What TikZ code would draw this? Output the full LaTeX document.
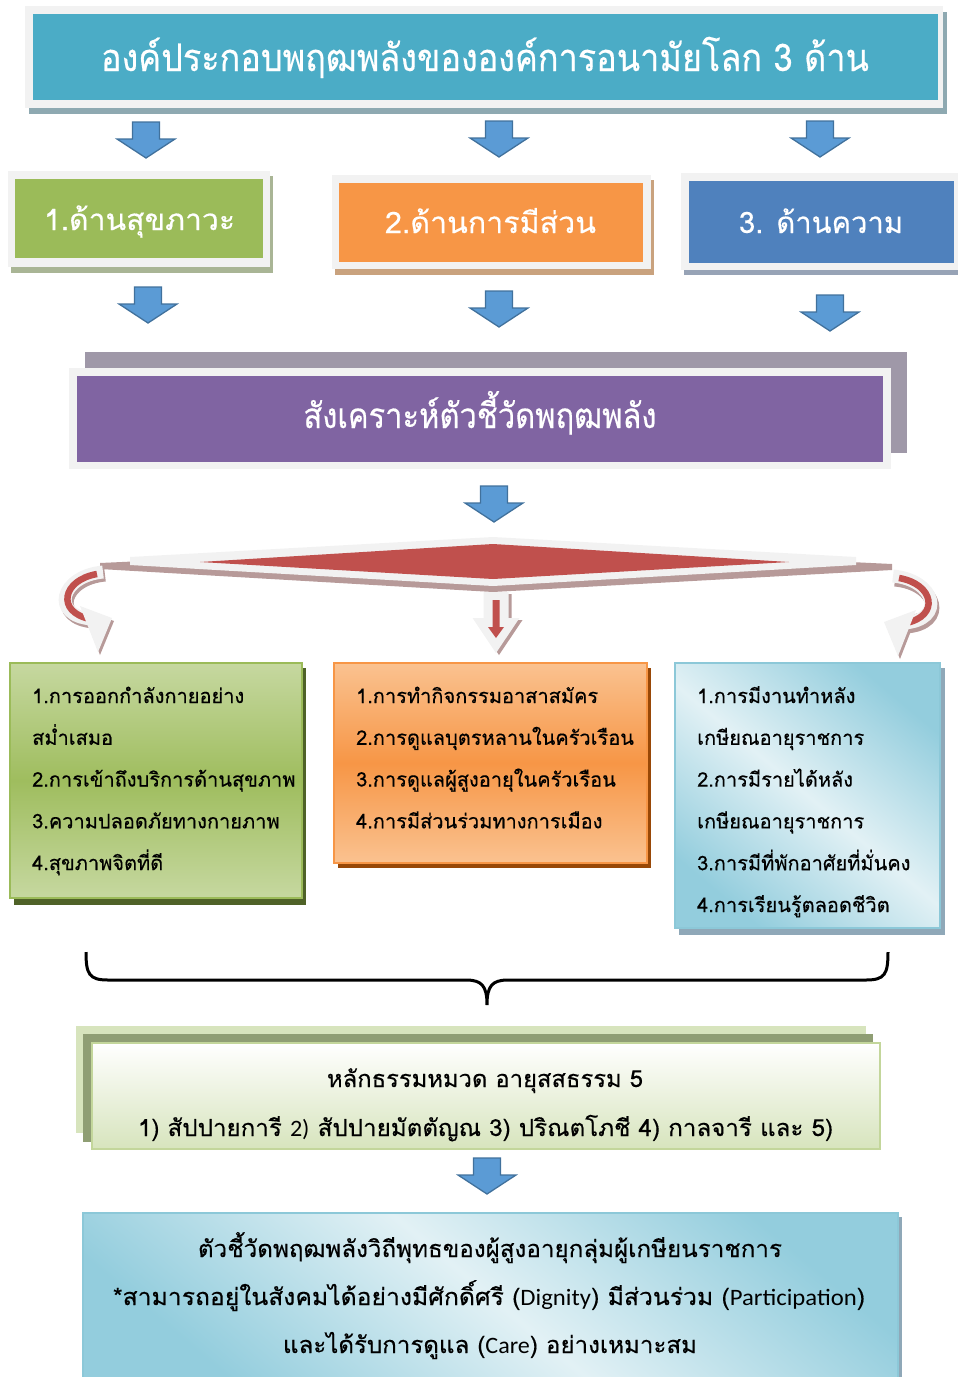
\documentclass[tikz,border=0pt]{standalone}
\usepackage{fontspec}
\usepackage{graphicx}
\setmainfont{Loma}[Script=Thai, FakeBold=0.4]
\newfontfamily\latinf{Carlito}
\definecolor{frameC}{HTML}{F2F2F2}
\definecolor{tealC}{HTML}{4BACC6}
\definecolor{bannerSh}{HTML}{8EA9B1}
\definecolor{greenC}{HTML}{9BBB59}
\definecolor{greenSh}{HTML}{A9B595}
\definecolor{orangeC}{HTML}{F79646}
\definecolor{orangeSh}{HTML}{C9A27E}
\definecolor{blueC}{HTML}{4F81BD}
\definecolor{blueSh}{HTML}{97A3B6}
\definecolor{purpleC}{HTML}{8064A2}
\definecolor{purpleBk}{HTML}{9F98A8}
\definecolor{arrowC}{HTML}{5B9BD5}
\definecolor{arrowD}{HTML}{41719C}
\definecolor{redC}{HTML}{C0504D}
\definecolor{redSh}{HTML}{B79A99}
\definecolor{lgTop}{HTML}{C6D8A0}
\definecolor{lgMid}{HTML}{9FBD5E}
\definecolor{lgSh}{HTML}{4F6228}
\definecolor{loTop}{HTML}{FAC290}
\definecolor{loSh}{HTML}{984807}
\definecolor{lbLight}{HTML}{E2F1F5}
\definecolor{lbDark}{HTML}{93CDDD}
\definecolor{lbBorder}{HTML}{8CC8D8}
\definecolor{lbSh}{HTML}{8FA8B8}
\definecolor{bgLight}{HTML}{D7E4BD}
\definecolor{bgDark}{HTML}{8F9E74}
\definecolor{bgBorder}{HTML}{C3D69B}
\newcommand\fitw[2]{\resizebox{#1pt}{\height}{#2}}
\newcommand\hfont{\fontsize{38}{44}\selectfont}
\newcommand\bfont{\fontsize{29.5}{34}\selectfont}
\newcommand\pfont{\fontsize{35}{40}\selectfont}
\newcommand\lfont{\fontsize{20}{24}\selectfont}
\newcommand\qfont{\fontsize{23.5}{28}\selectfont}
\begin{document}
\begin{tikzpicture}[x=1pt,y=-1pt,
  htext/.style={text=white, inner sep=0pt, anchor=base},
  ltext/.style={text=black, inner sep=0pt, anchor=base west, font=\lfont},
  qtext/.style={text=black, inner sep=0pt, anchor=base, font=\qfont},
  barrow/.style={fill=arrowC, draw=arrowD, line width=1.3pt, line join=miter},
  downarrow/.pic={\draw[barrow] (-13.5,0) -- (13.5,0) -- (13.5,17) -- (29,17) -- (0,36) -- (-29,17) -- (-13.5,17) -- cycle;},
  lbshade/.style={top color=lbDark, bottom color=lbDark, middle color=lbLight, shading angle=-40},
  band/.style={frameC, line width=13pt},
  bandsh/.style={redSh, line width=13pt},
  core/.style={redC, line width=6.5pt}
]
\useasboundingbox (0,0) rectangle (958,1377);

% ---------- banner
\fill[bannerSh] (29,12) rectangle (947,114);
\fill[frameC] (25,6) rectangle (943,108);
\fill[tealC] (33,14) rectangle (938,100);
\node[htext] (banner) at (485,71) {\hfont\fitw{768}{องค์ประกอบพฤฒพลังขององค์การอนามัยโลก 3 ด้าน}};

% ---------- arrows row 1
\pic at (146,122) {downarrow};
\pic at (499,121) {downarrow};
\pic at (820,121) {downarrow};

% ---------- three headers
\fill[greenSh] (11,176) rectangle (273,273);
\fill[frameC] (8,171) rectangle (270,267);
\fill[greenC] (15,179) rectangle (263,258);
\node[htext] (h1) at (139.5,230) {\bfont\fitw{191}{1.ด้านสุขภาวะ}};

\fill[orangeSh] (335,180) rectangle (654,275);
\fill[frameC] (332,175) rectangle (651,269);
\fill[orangeC] (339,183) rectangle (643,262);
\node[htext] (h2) at (490.5,233) {\bfont\fitw{211}{2.ด้านการมีส่วน}};

\fill[blueSh] (684,178) rectangle (958,275);
\fill[frameC] (681,173) rectangle (958,270);
\fill[blueC] (689,181) rectangle (954,263);
\node[htext] (h3) at (821,233) {\bfont\fitw{164}{3. ด้านความ}};

% ---------- arrows row 2
\pic at (148,287) {downarrow};
\pic at (499,291) {downarrow};
\pic at (830,295) {downarrow};

% ---------- purple synthesis box
\fill[purpleBk] (85,352) rectangle (907,453);
\fill[frameC] (69,368) rectangle (891,469);
\fill[purpleC] (77,376) rectangle (883,462);
\node[htext] (synth) at (480,428) {\pfont\fitw{353}{สังเคราะห์ตัวชี้วัดพฤฒพลัง}};

\pic at (494,486) {downarrow};

% ---------- diamond
\fill[redSh] (100,563) -- (493,545) -- (892,564) -- (892,570) -- (493,592) -- (100,569) -- cycle;
\fill[frameC] (130,557) -- (493,537) -- (856,557) -- (856,565) -- (493,586) -- (130,565) -- cycle;
\fill[redC] (200,562) -- (493,544) -- (789,562) -- (493,579) -- cycle;

% ---------- left curled arrow
\draw[bandsh] (105,575) .. controls (62,579) and (52,619) .. (94,622);
\fill[redSh] (82,609) -- (114,621) -- (100,655) -- cycle;
\draw[band] (103,572) .. controls (60,576) and (50,616) .. (92,619);
\draw[core] (97,574) .. controls (62,580) and (56,612) .. (90,619);
\fill[frameC] (80,606) -- (112,618) -- (98,652) -- cycle;

% ---------- right curled arrow
\draw[bandsh] (895,580) .. controls (938,584) and (948,624) .. (906,627);
\fill[redSh] (918,613) -- (886,625) -- (900,659) -- cycle;
\draw[band] (893,576) .. controls (936,580) and (946,620) .. (904,623);
\draw[core] (899,578) .. controls (934,584) and (940,616) .. (906,623);
\fill[frameC] (916,610) -- (884,622) -- (898,656) -- cycle;

% ---------- middle small arrow
\fill[redSh] (486.5,594) -- (511.5,594) -- (511.5,620) -- (522.5,620) -- (499,655) -- (475.5,620) -- (486.5,620) -- cycle;
\fill[frameC] (483.5,592) -- (508.5,592) -- (508.5,618) -- (519.5,618) -- (496,653) -- (472.5,618) -- (483.5,618) -- cycle;
\fill[redC] (492.5,600) -- (499.5,600) -- (499.5,627) -- (504,627) -- (496,638) -- (488,627) -- (492.5,627) -- cycle;

% ---------- green list
\fill[lgSh] (14,668) rectangle (306,905);
\shade[top color=lgTop, bottom color=lgTop, middle color=lgMid] (10,663) rectangle (302,898);
\draw[greenC, line width=1.5pt] (10,663) rectangle (302,898);
\foreach \t [count=\i] in {{1.การออกกำลังกายอย่าง},{สม่ำเสมอ},{2.การเข้าถึงบริการด้านสุขภาพ},{3.ความปลอดภัยทางกายภาพ},{4.สุขภาพจิตที่ดี}}
  \node[ltext] (g\i) at (32,{703+41.75*(\i-1)}) {\t};

% ---------- orange list
\fill[loSh] (338,668) rectangle (651,868);
\shade[top color=loTop, bottom color=loTop, middle color=orangeC] (334,663) rectangle (647,863);
\draw[orangeC, line width=1.5pt] (334,663) rectangle (647,863);
\foreach \t [count=\i] in {{1.การทำกิจกรรมอาสาสมัคร},{2.การดูแลบุตรหลานในครัวเรือน},{3.การดูแลผู้สูงอายุในครัวเรือน},{4.การมีส่วนร่วมทางการเมือง}}
  \node[ltext] (o\i) at (356,{703+41.75*(\i-1)}) {\t};

% ---------- blue list
\fill[lbSh] (679,668) rectangle (945,935);
\shade[lbshade] (675,663) rectangle (940,928);
\draw[lbBorder, line width=1.5pt] (675,663) rectangle (940,928);
\foreach \t [count=\i] in {{1.การมีงานทำหลัง},{เกษียณอายุราชการ},{2.การมีรายได้หลัง},{เกษียณอายุราชการ},{3.การมีที่พักอาศัยที่มั่นคง},{4.การเรียนรู้ตลอดชีวิต}}
  \node[ltext] (b\i) at (697,{703+41.8*(\i-1)}) {\t};

% ---------- brace
\coordinate (brL) at (86,952);
\coordinate (brR) at (888,952);
\coordinate (brM) at (487,1005);
\draw[black, line width=3pt] (brL) .. controls (86,974) and (89,980) .. (108,980) -- (466,980)
  .. controls (482,980) and (487,986) .. (brM)
  .. controls (487,986) and (492,980) .. (508,980) -- (866,980)
  .. controls (885,980) and (888,974) .. (brR);

% ---------- dhamma box
\fill[bgLight] (76,1026) rectangle (866,1133);
\fill[bgDark] (83,1034) rectangle (873,1142);
\shade[top color=white, bottom color=bgLight] (92,1043) rectangle (880,1149);
\draw[bgBorder, line width=1.5pt] (92,1043) rectangle (880,1149);
\node[qtext] (d1) at (485,1087) {\fitw{316}{หลักธรรมหมวด อายุสสธรรม 5}};
\node[qtext] (d2) at (485.5,1136) {\fitw{695}{1) สัปปายการี {\latinf 2)} สัปปายมัตตัญณ 3) ปริณตโภชี 4) กาลจารี และ 5)}};

\pic at (487,1158) {downarrow};

% ---------- result box
\fill[lbSh] (87,1217) rectangle (902,1377);
\shade[lbshade] (83,1213) rectangle (898,1380);
\draw[lbBorder, line width=1.5pt] (83,1380) -- (83,1213) -- (898,1213) -- (898,1380);
\node[qtext] (r1) at (490,1257) {\fitw{584}{ตัวชี้วัดพฤฒพลังวิถีพุทธของผู้สูงอายุกลุ่มผู้เกษียนราชการ}};
\node[qtext] (r2) at (489,1305) {\fitw{752}{*สามารถอยู่ในสังคมได้อย่างมีศักดิ์ศรี ({\latinf Dignity}) มีส่วนร่วม ({\latinf Participation})}};
\node[qtext] (r3) at (490,1353) {\fitw{414}{และได้รับการดูแล ({\latinf Care}) อย่างเหมาะสม}};
\end{tikzpicture}
\end{document}
